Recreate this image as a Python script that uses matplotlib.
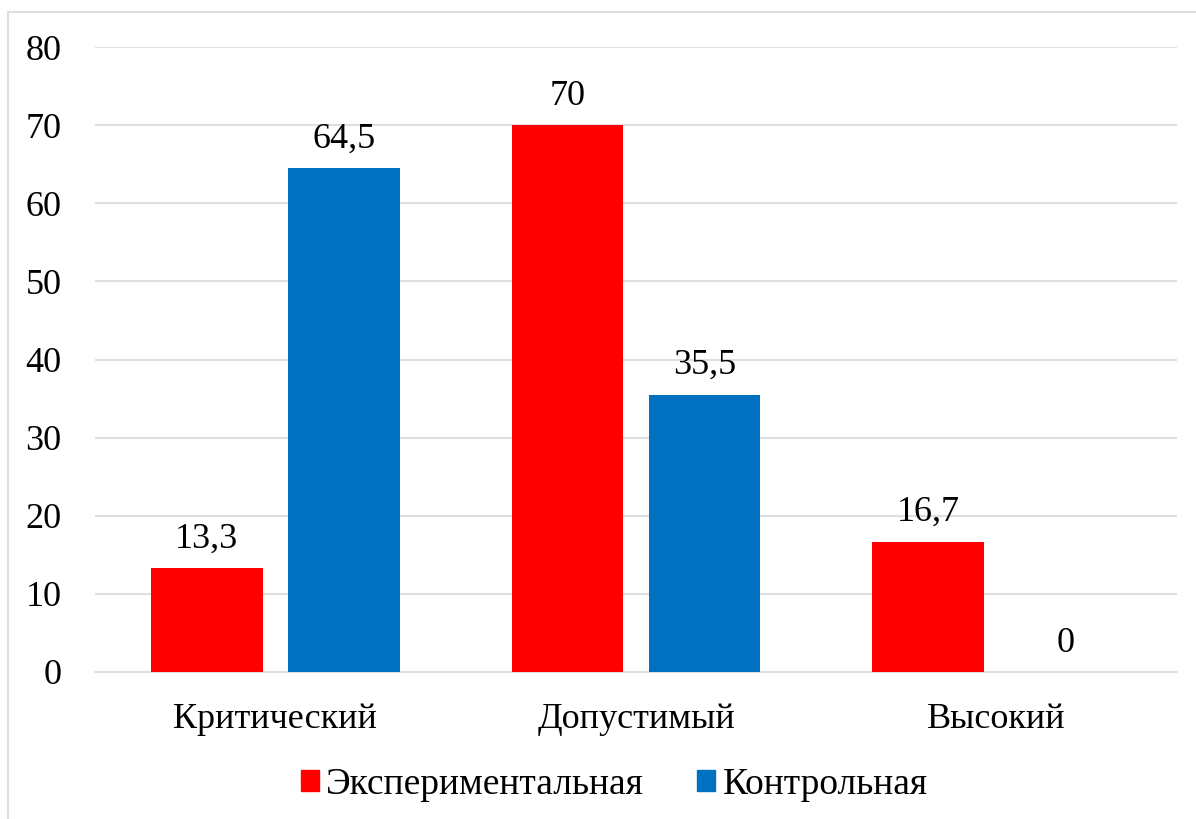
import matplotlib
matplotlib.use("Agg")
import matplotlib.pyplot as plt
import numpy as np
from matplotlib.patches import Rectangle, Patch

categories = ["Критический", "Допустимый", "Высокий"]
series_names = ["Экспериментальная", "Контрольная"]
exp_values = [13.3, 70, 16.7]
ctrl_values = [64.5, 35.5, 0]
exp_labels = ["13,3", "70", "16,7"]
ctrl_labels = ["64,5", "35,5", "0"]
yticks = [0, 10, 20, 30, 40, 50, 60, 70, 80]

RED = "#ff0000"
BLUE = "#0070c0"
GRID = "#dcdfe4"
FS = 26

plt.rcParams['font.family'] = ['Liberation Serif', 'DejaVu Serif']

fig = plt.figure(figsize=(11.96, 8.19), dpi=100)
fig.patches.append(Rectangle((8/1196, -0.1), 1.2, 1 - 12/819 + 0.1, transform=fig.transFigure,
                             fill=False, edgecolor=GRID, linewidth=1.5, zorder=0))
ax = fig.add_axes([95/1196, 1 - 672/819, (1177 - 95)/1196, (672 - 47)/819])

x = np.arange(len(categories))
w = 0.31
off = 0.19
b1 = ax.bar(x - off, exp_values, w, color=RED, zorder=3)
b2 = ax.bar(x + off, ctrl_values, w, color=BLUE, zorder=3)

for rect, lab in zip(b1, exp_labels):
    ax.annotate(lab, (rect.get_x() + rect.get_width()/2, rect.get_height()),
                xytext=(0, 9), textcoords="offset points", ha="center", va="bottom", fontsize=FS)
for rect, lab in zip(b2, ctrl_labels):
    ax.annotate(lab, (rect.get_x() + rect.get_width()/2, rect.get_height()),
                xytext=(0, 9), textcoords="offset points", ha="center", va="bottom", fontsize=FS)

ax.set_xlim(-0.5, 2.5)
ax.set_ylim(0, 80)
ax.set_yticks(yticks)
ax.set_yticklabels([str(v) for v in yticks], fontsize=FS)
ax.set_xticks(x)
ax.set_xticklabels(categories, fontsize=FS)
ax.tick_params(axis='both', length=0)
ax.tick_params(axis='y', pad=24)
ax.tick_params(axis='x', pad=22)
ax.yaxis.grid(True, color=GRID, linewidth=1.5, zorder=0)
ax.set_axisbelow(True)
for s in ["top", "right", "left"]:
    ax.spines[s].set_visible(False)
ax.spines["bottom"].set_color(GRID)
ax.spines["bottom"].set_linewidth(1.5)

handles = [Patch(color=RED), Patch(color=BLUE)]
fig.legend(handles, series_names, loc="center", bbox_to_anchor=(614/1196, 1 - 785/819),
           ncol=2, frameon=False, prop={'size': 27}, handlelength=0.48, handleheight=0.48,
           handletextpad=0.2, columnspacing=1.42, borderpad=0, borderaxespad=0)

fig.savefig("out.png", dpi=100)
